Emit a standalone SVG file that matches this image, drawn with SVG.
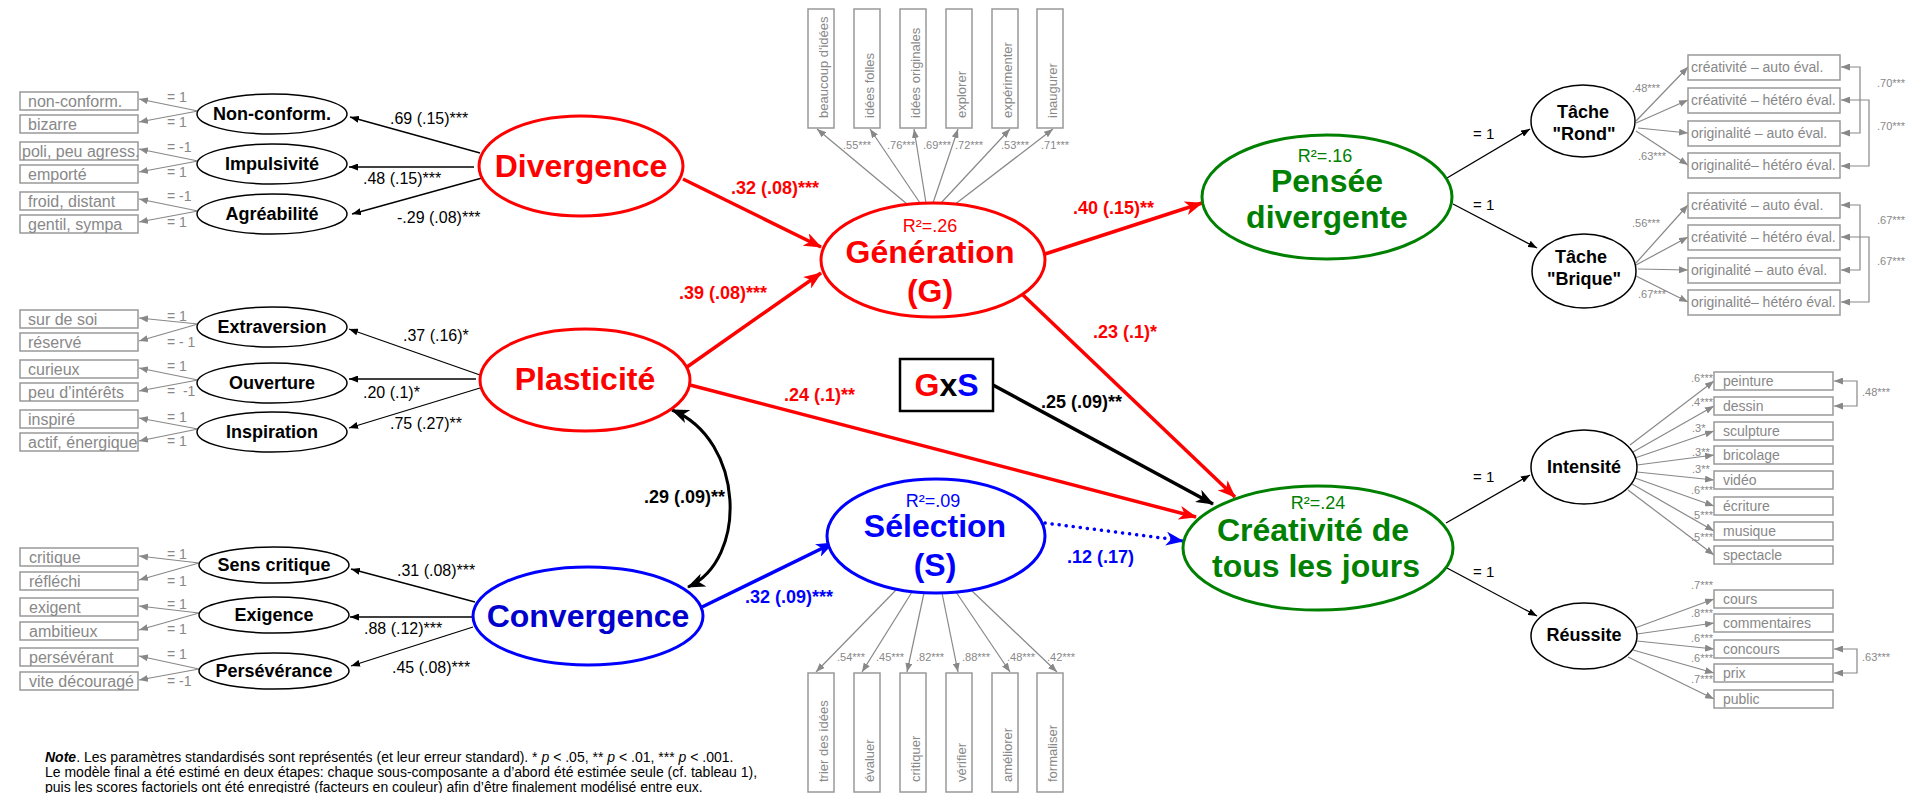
<svg xmlns="http://www.w3.org/2000/svg" width="1907" height="793" viewBox="0 0 1907 793">
<defs>
<style>
text{font-family:"Liberation Sans",Arial,sans-serif}
.g{fill:#888;font-size:16px}
.gs{fill:#888;font-size:14px}
.gc{fill:#888;font-size:11px}
.gr{fill:#888;font-size:14px}
.gv{fill:#888;font-size:13px}
.bx{fill:#fff;stroke:#999;stroke-width:1.5}
.gl{stroke:#888;stroke-width:1.2;fill:none;marker-end:url(#mg)}
.gb{stroke:#888;stroke-width:1.2;fill:none;marker-start:url(#mg2);marker-end:url(#mg2)}
.se{fill:#fff;stroke:#000;stroke-width:1.5}
.st{font-size:18px;font-weight:bold;fill:#000;text-anchor:middle}
.bl{stroke:#000;stroke-width:1.3;fill:none;marker-end:url(#ms)}
.lb{font-size:16px;fill:#000}
.eq{font-size:15px;fill:#000}
.big{font-size:32px;font-weight:bold;text-anchor:middle}
.r2{font-size:18px;text-anchor:middle}
.pl{font-size:18px;font-weight:bold}
.red{fill:#f00}.blu{fill:#00f}.grn{fill:#008000}
.tr{stroke:#f00;stroke-width:3.5;fill:none;marker-end:url(#mr)}
</style>
<marker id="mr" markerUnits="userSpaceOnUse" viewBox="0 0 18 14" markerWidth="18" markerHeight="14" refX="17" refY="7" orient="auto"><path d="M0,0 L18,7 L0,14 L5,7 z" fill="#f00"/></marker>
<marker id="mb" markerUnits="userSpaceOnUse" viewBox="0 0 18 14" markerWidth="18" markerHeight="14" refX="17" refY="7" orient="auto"><path d="M0,0 L18,7 L0,14 L5,7 z" fill="#00f"/></marker>
<marker id="mk" markerUnits="userSpaceOnUse" viewBox="0 0 18 14" markerWidth="18" markerHeight="14" refX="17" refY="7" orient="auto"><path d="M0,0 L18,7 L0,14 L5,7 z" fill="#000"/></marker>
<marker id="mk2" markerUnits="userSpaceOnUse" viewBox="0 0 18 14" markerWidth="18" markerHeight="14" refX="17" refY="7" orient="auto-start-reverse"><path d="M0,0 L18,7 L0,14 L5,7 z" fill="#000"/></marker>
<marker id="ms" markerUnits="userSpaceOnUse" viewBox="0 0 9 7" markerWidth="9" markerHeight="7" refX="9" refY="3.5" orient="auto"><path d="M0,0 L9,3.5 L0,7 z" fill="#000"/></marker>
<marker id="mg" markerUnits="userSpaceOnUse" viewBox="0 0 9 7" markerWidth="9" markerHeight="7" refX="9" refY="3.5" orient="auto"><path d="M0,0 L9,3.5 L0,7 z" fill="#888"/></marker>
<marker id="mg2" markerUnits="userSpaceOnUse" viewBox="0 0 9 7" markerWidth="9" markerHeight="7" refX="9" refY="3.5" orient="auto-start-reverse"><path d="M0,0 L9,3.5 L0,7 z" fill="#888"/></marker>
</defs>
<rect width="1907" height="793" fill="#fff"/>

<g id="connectors">
  <path class="gl" d="M198,111 L139,99"/><path class="gl" d="M198,111 L139,122"/>
  <path class="gl" d="M198,161 L139,149"/><path class="gl" d="M198,161 L139,172"/>
  <path class="gl" d="M198,211 L139,199"/><path class="gl" d="M198,211 L139,222"/>
  <text class="gs" x="167" y="102">= 1</text><text class="gs" x="167" y="127">= 1</text>
  <text class="gs" x="167" y="152">= -1</text><text class="gs" x="167" y="177">= 1</text>
  <text class="gs" x="167" y="201">= -1</text><text class="gs" x="167" y="227">= 1</text>
  <path class="bl" d="M480,153 L350,117"/>
  <path class="bl" d="M474,167 L349,167"/>
  <path class="bl" d="M482,178 L352,214"/>
  <text class="lb" x="390" y="124">.69 (.15)***</text>
  <text class="lb" x="363" y="184">.48 (.15)***</text>
  <text class="lb" x="397" y="223">-.29 (.08)***</text>

  <path class="gl" d="M198,324 L139,318"/><path class="gl" d="M198,324 L139,341"/>
  <path class="gl" d="M198,380 L139,368"/><path class="gl" d="M198,380 L139,391"/>
  <path class="gl" d="M198,429 L139,418"/><path class="gl" d="M198,429 L139,441"/>
  <text class="gs" x="167" y="321">= 1</text><text class="gs" x="167" y="347">= - 1</text>
  <text class="gs" x="167" y="371">= 1</text><text class="gs" x="167" y="396" xml:space="preserve">=  -1</text>
  <text class="gs" x="167" y="422">= 1</text><text class="gs" x="167" y="446">= 1</text>
  <path class="bl" d="M480,375 L349,329"/>
  <path class="bl" d="M476,379 L349,379"/>
  <path class="bl" d="M480,388 L349,428"/>
  <text class="lb" x="403" y="341">.37 (.16)*</text>
  <text class="lb" x="363" y="398">.20 (.1)*</text>
  <text class="lb" x="390" y="429">.75 (.27)**</text>

  <path class="gl" d="M199,563 L139,556"/><path class="gl" d="M199,563 L139,580"/>
  <path class="gl" d="M199,613 L139,606"/><path class="gl" d="M199,613 L139,630"/>
  <path class="gl" d="M199,669 L139,656"/><path class="gl" d="M199,669 L139,680"/>
  <text class="gs" x="167" y="559">= 1</text><text class="gs" x="167" y="586">= 1</text>
  <text class="gs" x="167" y="609">= 1</text><text class="gs" x="167" y="634">= 1</text>
  <text class="gs" x="167" y="659">= 1</text><text class="gs" x="167" y="686">= -1</text>
  <path class="bl" d="M475,602 L351,569"/>
  <path class="bl" d="M473,617 L350,617"/>
  <path class="bl" d="M473,627 L351,666"/>
  <text class="lb" x="397" y="576">.31 (.08)***</text>
  <text class="lb" x="364" y="634">.88 (.12)***</text>
  <text class="lb" x="392" y="673">.45 (.08)***</text>

  <path class="gl" d="M907,204 L817,129"/><path class="gl" d="M920,203 L870,129"/>
  <path class="gl" d="M926,203 L914,129"/><path class="gl" d="M933,203 L958,129"/>
  <path class="gl" d="M941,203 L1010,129"/><path class="gl" d="M954,205 L1053,129"/>
  <text class="gc" x="843" y="149">.55***</text><text class="gc" x="887" y="149">.76***</text>
  <text class="gc" x="923" y="149">.69***</text><text class="gc" x="955" y="149">.72***</text>
  <text class="gc" x="1001" y="149">.53***</text><text class="gc" x="1041" y="149">.71***</text>

  <path class="gl" d="M896,590 L816,672"/><path class="gl" d="M912,592 L862,672"/>
  <path class="gl" d="M924,593 L907,672"/><path class="gl" d="M942,593 L958,672"/>
  <path class="gl" d="M956,592 L1010,672"/><path class="gl" d="M971,590 L1057,672"/>
  <text class="gc" x="837" y="661">.54***</text><text class="gc" x="876" y="661">.45***</text>
  <text class="gc" x="916" y="661">.82***</text><text class="gc" x="962" y="661">.88***</text>
  <text class="gc" x="1007" y="661">.48***</text><text class="gc" x="1047" y="661">.42***</text>

  <path class="tr" d="M683,179 L821,247"/>
  <text class="pl red" x="731" y="194">.32 (.08)***</text>
  <path class="tr" d="M687,367 L821,273"/>
  <text class="pl red" x="679" y="299">.39 (.08)***</text>
  <path class="tr" d="M690,385 L1196,517"/>
  <text class="pl red" x="784" y="401">.24 (.1)**</text>
  <path class="tr" d="M1045,254 L1202,203"/>
  <text class="pl red" x="1073" y="214">.40 (.15)**</text>
  <path class="tr" d="M1023,295 L1235,497"/>
  <text class="pl red" x="1093" y="338">.23 (.1)*</text>
  <path d="M993,385 L1213,504" stroke="#000" stroke-width="3.5" fill="none" marker-end="url(#mk)"/>
  <text class="pl" x="1041" y="408">.25 (.09)**</text>
  <path d="M672,410 C745,440 748,560 688,587" stroke="#000" stroke-width="3" fill="none" marker-start="url(#mk2)" marker-end="url(#mk2)"/>
  <text class="pl" x="644" y="503">.29 (.09)**</text>
  <path d="M702,607 L833,543" stroke="#00f" stroke-width="3.5" fill="none" marker-end="url(#mb)"/>
  <text class="pl blu" x="745" y="603">.32 (.09)***</text>
  <path d="M1045,523 L1178,540" stroke="#00f" stroke-width="3.5" stroke-dasharray="0.1 7" stroke-linecap="round" fill="none"/>
  <path d="M1176,540 L1183,541" stroke="#00f" stroke-width="3" fill="none" marker-end="url(#mb)"/>
  <text class="pl blu" x="1067" y="563">.12 (.17)</text>

  <path class="bl" d="M1447,178 L1530,129"/>
  <text class="eq" x="1473" y="139">= 1</text>
  <path class="bl" d="M1453,204 L1537,248"/>
  <text class="eq" x="1473" y="210">= 1</text>
  <path class="gl" d="M1636,121 L1688,67"/><path class="gl" d="M1636,123 L1688,100"/>
  <path class="gl" d="M1638,128 L1688,133"/><path class="gl" d="M1636,131 L1688,165"/>
  <text class="gc" x="1632" y="92">.48***</text><text class="gc" x="1638" y="160">.63***</text>
  <path class="gb" d="M1841,67 H1860 V133 H1841"/>
  <path class="gb" d="M1841,100 H1869 V166 H1841"/>
  <text class="gc" x="1877" y="87">.70***</text><text class="gc" x="1877" y="130">.70***</text>
  <path class="gl" d="M1636,263 L1688,205"/><path class="gl" d="M1636,265 L1688,237"/>
  <path class="gl" d="M1638,269 L1688,270"/><path class="gl" d="M1634,275 L1688,302"/>
  <text class="gc" x="1632" y="227">.56***</text><text class="gc" x="1638" y="298">.67***</text>
  <path class="gb" d="M1841,205 H1860 V270 H1841"/>
  <path class="gb" d="M1841,237 H1869 V302 H1841"/>
  <text class="gc" x="1877" y="224">.67***</text><text class="gc" x="1877" y="265">.67***</text>

  <path class="bl" d="M1446,523 L1530,475"/>
  <text class="eq" x="1473" y="482">= 1</text>
  <path class="bl" d="M1447,568 L1537,616"/>
  <text class="eq" x="1473" y="577">= 1</text>
  <path class="gl" d="M1630,445 L1714,381"/><path class="gl" d="M1633,452 L1714,406"/>
  <path class="gl" d="M1635,458 L1714,431"/><path class="gl" d="M1637,465 L1714,455"/>
  <path class="gl" d="M1637,472 L1714,480"/><path class="gl" d="M1635,478 L1714,506"/>
  <path class="gl" d="M1632,484 L1714,531"/><path class="gl" d="M1628,490 L1714,555"/>
  <text class="gc" x="1691" y="382">.6***</text><text class="gc" x="1691" y="406">.4***</text>
  <text class="gc" x="1692" y="432">.3*</text><text class="gc" x="1692" y="456">.3**</text>
  <text class="gc" x="1692" y="473">.3**</text><text class="gc" x="1691" y="494">.6***</text>
  <text class="gc" x="1691" y="519">.5***</text><text class="gc" x="1691" y="541">.5***</text>
  <path class="gb" d="M1834,381 H1857 V406 H1834"/>
  <text class="gc" x="1862" y="396">.48***</text>
  <path class="gl" d="M1635,628 L1714,599"/><path class="gl" d="M1637,634 L1714,623"/>
  <path class="gl" d="M1637,641 L1714,649"/><path class="gl" d="M1633,650 L1714,673"/>
  <path class="gl" d="M1628,657 L1714,699"/>
  <text class="gc" x="1691" y="589">.7***</text><text class="gc" x="1691" y="617">.8***</text>
  <text class="gc" x="1691" y="642">.6***</text><text class="gc" x="1691" y="662">.6***</text>
  <text class="gc" x="1691" y="683">.7***</text>
  <path class="gb" d="M1834,649 H1857 V673 H1834"/>
  <text class="gc" x="1862" y="661">.63***</text>
</g>

<g id="ind-nonconform"><rect class="bx" x="20" y="92" width="118" height="18"/><text class="g" x="28" y="107">non-conform.</text></g>
<g id="ind-bizarre"><rect class="bx" x="20" y="115" width="118" height="18"/><text class="g" x="28" y="130">bizarre</text></g>
<g id="ind-poli"><rect class="bx" x="20" y="142" width="118" height="18"/><text class="g" x="22" y="157">poli, peu agress.</text></g>
<g id="ind-emporte"><rect class="bx" x="20" y="165" width="118" height="18"/><text class="g" x="28" y="180">emporté</text></g>
<g id="ind-froid"><rect class="bx" x="20" y="192" width="118" height="18"/><text class="g" x="28" y="207">froid, distant</text></g>
<g id="ind-gentil"><rect class="bx" x="20" y="215" width="118" height="18"/><text class="g" x="28" y="230">gentil, sympa</text></g>

<g id="ind-sur"><rect class="bx" x="20" y="310" width="118" height="18"/><text class="g" x="28" y="325">sur de soi</text></g>
<g id="ind-reserve"><rect class="bx" x="20" y="333" width="118" height="18"/><text class="g" x="28" y="348">réservé</text></g>
<g id="ind-curieux"><rect class="bx" x="20" y="360" width="118" height="18"/><text class="g" x="28" y="375">curieux</text></g>
<g id="ind-peu"><rect class="bx" x="20" y="383" width="118" height="18"/><text class="g" x="28" y="398">peu d’intérêts</text></g>
<g id="ind-inspire"><rect class="bx" x="20" y="410" width="118" height="18"/><text class="g" x="28" y="425">inspiré</text></g>
<g id="ind-actif"><rect class="bx" x="20" y="433" width="118" height="18"/><text class="g" x="28" y="448">actif, énergique</text></g>

<g id="ind-critique"><rect class="bx" x="20" y="548" width="118" height="18"/><text class="g" x="29" y="563">critique</text></g>
<g id="ind-reflechi"><rect class="bx" x="20" y="572" width="118" height="18"/><text class="g" x="29" y="587">réfléchi</text></g>
<g id="ind-exigent"><rect class="bx" x="20" y="598" width="118" height="18"/><text class="g" x="29" y="613">exigent</text></g>
<g id="ind-ambitieux"><rect class="bx" x="20" y="622" width="118" height="18"/><text class="g" x="29" y="637">ambitieux</text></g>
<g id="ind-perseverant"><rect class="bx" x="20" y="648" width="118" height="18"/><text class="g" x="29" y="663">persévérant</text></g>
<g id="ind-vite"><rect class="bx" x="20" y="672" width="118" height="18"/><text class="g" x="29" y="687">vite découragé</text></g>

<g id="nonconform"><ellipse class="se" cx="272" cy="114" rx="75" ry="20"/><text class="st" x="272" y="120">Non-conform.</text></g>
<g id="impulsivite"><ellipse class="se" cx="272" cy="164" rx="75" ry="20"/><text class="st" x="272" y="170">Impulsivité</text></g>
<g id="agreabilite"><ellipse class="se" cx="272" cy="214" rx="75" ry="20"/><text class="st" x="272" y="220">Agréabilité</text></g>
<g id="extraversion"><ellipse class="se" cx="272" cy="327" rx="75" ry="20"/><text class="st" x="272" y="333">Extraversion</text></g>
<g id="ouverture"><ellipse class="se" cx="272" cy="383" rx="75" ry="20"/><text class="st" x="272" y="389">Ouverture</text></g>
<g id="inspiration"><ellipse class="se" cx="272" cy="432" rx="75" ry="20"/><text class="st" x="272" y="438">Inspiration</text></g>
<g id="senscritique"><ellipse class="se" cx="274" cy="565" rx="75" ry="18"/><text class="st" x="274" y="571">Sens critique</text></g>
<g id="exigence"><ellipse class="se" cx="274" cy="615" rx="75" ry="18"/><text class="st" x="274" y="621">Exigence</text></g>
<g id="perseverance"><ellipse class="se" cx="274" cy="671" rx="75" ry="18"/><text class="st" x="274" y="677">Persévérance</text></g>

<g id="divergence"><ellipse cx="581" cy="166" rx="102" ry="50" fill="#fff" stroke="#f00" stroke-width="3"/><text class="big red" x="581" y="177">Divergence</text></g>
<g id="plasticite"><ellipse cx="585" cy="380" rx="105" ry="51" fill="#fff" stroke="#f00" stroke-width="3"/><text class="big red" x="585" y="390">Plasticité</text></g>
<g id="convergence"><ellipse cx="588" cy="616" rx="115" ry="49" fill="#fff" stroke="#00f" stroke-width="3"/><text class="big" x="588" y="627" fill="#0000cc">Convergence</text></g>
<g id="generation"><ellipse cx="933" cy="260" rx="112" ry="57" fill="#fff" stroke="#f00" stroke-width="3"/><text class="r2 red" x="930" y="232">R²=.26</text><text class="big red" x="930" y="263">Génération</text><text class="big red" x="930" y="302">(G)</text></g>
<g id="selection"><ellipse cx="936" cy="536" rx="109" ry="57" fill="#fff" stroke="#00f" stroke-width="3"/><text class="r2 blu" x="933" y="507">R²=.09</text><text class="big blu" x="935" y="537">Sélection</text><text class="big blu" x="935" y="576">(S)</text></g>
<g id="gxs"><rect x="900" y="359" width="93" height="52" fill="#fff" stroke="#000" stroke-width="2.5"/><text class="big" x="946.5" y="396"><tspan fill="#f00">G</tspan><tspan fill="#000">x</tspan><tspan fill="#00f">S</tspan></text></g>
<g id="pensee"><ellipse cx="1327" cy="197" rx="125" ry="62" fill="#fff" stroke="#008000" stroke-width="3"/><text class="r2 grn" x="1325" y="162">R²=.16</text><text class="big grn" x="1327" y="192">Pensée</text><text class="big grn" x="1327" y="228">divergente</text></g>
<g id="creativite"><ellipse cx="1318" cy="548" rx="135" ry="62" fill="#fff" stroke="#008000" stroke-width="3"/><text class="r2 grn" x="1318" y="509">R²=.24</text><text class="big grn" x="1313" y="541">Créativité de</text><text class="big grn" x="1316" y="577">tous les jours</text></g>

<g id="gi1"><rect class="bx" x="808" y="9" width="26" height="119"/><text class="gv" transform="translate(828,118) rotate(-90)">beaucoup d'idées</text></g>
<g id="gi2"><rect class="bx" x="854" y="9" width="26" height="119"/><text class="gv" transform="translate(874,118) rotate(-90)">idées folles</text></g>
<g id="gi3"><rect class="bx" x="900" y="9" width="26" height="119"/><text class="gv" transform="translate(920,118) rotate(-90)">idées originales</text></g>
<g id="gi4"><rect class="bx" x="946" y="9" width="26" height="119"/><text class="gv" transform="translate(966,118) rotate(-90)">explorer</text></g>
<g id="gi5"><rect class="bx" x="992" y="9" width="26" height="119"/><text class="gv" transform="translate(1012,118) rotate(-90)">expérimenter</text></g>
<g id="gi6"><rect class="bx" x="1037" y="9" width="26" height="119"/><text class="gv" transform="translate(1057,118) rotate(-90)">inaugurer</text></g>

<g id="si1"><rect class="bx" x="808" y="673" width="26" height="119"/><text class="gv" transform="translate(828,782) rotate(-90)">trier des idées</text></g>
<g id="si2"><rect class="bx" x="854" y="673" width="26" height="119"/><text class="gv" transform="translate(874,782) rotate(-90)">évaluer</text></g>
<g id="si3"><rect class="bx" x="900" y="673" width="26" height="119"/><text class="gv" transform="translate(920,782) rotate(-90)">critiquer</text></g>
<g id="si4"><rect class="bx" x="946" y="673" width="26" height="119"/><text class="gv" transform="translate(966,782) rotate(-90)">vérifier</text></g>
<g id="si5"><rect class="bx" x="992" y="673" width="26" height="119"/><text class="gv" transform="translate(1012,782) rotate(-90)">améliorer</text></g>
<g id="si6"><rect class="bx" x="1037" y="673" width="26" height="119"/><text class="gv" transform="translate(1057,782) rotate(-90)">formaliser</text></g>

<g id="rond"><ellipse class="se" cx="1583" cy="121" rx="52" ry="36"/><text class="st" x="1583" y="118">Tâche</text><text class="st" x="1584" y="140">"Rond"</text></g>
<g id="brique"><ellipse class="se" cx="1584" cy="271" rx="52" ry="37"/><text class="st" x="1581" y="263">Tâche</text><text class="st" x="1584" y="285">"Brique"</text></g>
<g id="r1"><rect class="bx" x="1688" y="55" width="152" height="25"/><text class="gr" x="1691" y="72">créativité – auto éval.</text></g>
<g id="r2"><rect class="bx" x="1688" y="88" width="152" height="25"/><text class="gr" x="1691" y="105">créativité – hétéro éval.</text></g>
<g id="r3"><rect class="bx" x="1688" y="121" width="152" height="25"/><text class="gr" x="1691" y="138">originalité – auto éval.</text></g>
<g id="r4"><rect class="bx" x="1688" y="153" width="152" height="25"/><text class="gr" x="1691" y="170">originalité– hétéro éval.</text></g>
<g id="b1"><rect class="bx" x="1688" y="193" width="152" height="25"/><text class="gr" x="1691" y="210">créativité – auto éval.</text></g>
<g id="b2"><rect class="bx" x="1688" y="225" width="152" height="25"/><text class="gr" x="1691" y="242">créativité – hétéro éval.</text></g>
<g id="b3"><rect class="bx" x="1688" y="258" width="152" height="25"/><text class="gr" x="1691" y="275">originalité – auto éval.</text></g>
<g id="b4"><rect class="bx" x="1688" y="290" width="152" height="25"/><text class="gr" x="1691" y="307">originalité– hétéro éval.</text></g>

<g id="intensite"><ellipse class="se" cx="1584" cy="467" rx="53" ry="37"/><text class="st" x="1584" y="473">Intensité</text></g>
<g id="reussite"><ellipse class="se" cx="1584" cy="636" rx="53" ry="33"/><text class="st" x="1584" y="641">Réussite</text></g>
<g id="i1"><rect class="bx" x="1714" y="372" width="119" height="18"/><text class="gr" x="1723" y="386">peinture</text></g>
<g id="i2"><rect class="bx" x="1714" y="397" width="119" height="18"/><text class="gr" x="1723" y="411">dessin</text></g>
<g id="i3"><rect class="bx" x="1714" y="422" width="119" height="18"/><text class="gr" x="1723" y="436">sculpture</text></g>
<g id="i4"><rect class="bx" x="1714" y="446" width="119" height="18"/><text class="gr" x="1723" y="460">bricolage</text></g>
<g id="i5"><rect class="bx" x="1714" y="471" width="119" height="18"/><text class="gr" x="1723" y="485">vidéo</text></g>
<g id="i6"><rect class="bx" x="1714" y="497" width="119" height="18"/><text class="gr" x="1723" y="511">écriture</text></g>
<g id="i7"><rect class="bx" x="1714" y="522" width="119" height="18"/><text class="gr" x="1723" y="536">musique</text></g>
<g id="i8"><rect class="bx" x="1714" y="546" width="119" height="18"/><text class="gr" x="1723" y="560">spectacle</text></g>
<g id="u1"><rect class="bx" x="1714" y="590" width="119" height="18"/><text class="gr" x="1723" y="604">cours</text></g>
<g id="u2"><rect class="bx" x="1714" y="614" width="119" height="18"/><text class="gr" x="1723" y="628">commentaires</text></g>
<g id="u3"><rect class="bx" x="1714" y="640" width="119" height="18"/><text class="gr" x="1723" y="654">concours</text></g>
<g id="u4"><rect class="bx" x="1714" y="664" width="119" height="18"/><text class="gr" x="1723" y="678">prix</text></g>
<g id="u5"><rect class="bx" x="1714" y="690" width="119" height="18"/><text class="gr" x="1723" y="704">public</text></g>

<g id="note" font-size="14" fill="#000">
<text x="45" y="762"><tspan font-weight="bold" font-style="italic">Note</tspan>. Les paramètres standardisés sont représentés (et leur erreur standard). * <tspan font-style="italic">p</tspan> &lt; .05, ** <tspan font-style="italic">p</tspan> &lt; .01, *** <tspan font-style="italic">p</tspan> &lt; .001.</text>
<text x="45" y="777">Le modèle final a été estimé en deux étapes: chaque sous-composante a d’abord été estimée seule (cf. tableau 1),</text>
<text x="45" y="792">puis les scores factoriels ont été enregistré (facteurs en couleur) afin d’être finalement modélisé entre eux.</text>
</g>
</svg>
